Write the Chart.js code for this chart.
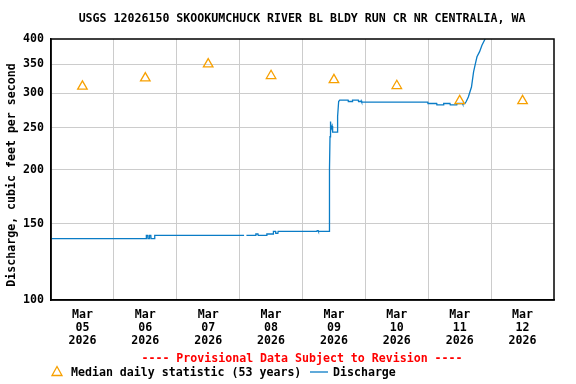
<!DOCTYPE html>
<html>
<head>
<meta charset="utf-8">
<script src="https://cdn.jsdelivr.net/npm/chart.js@4/dist/chart.umd.min.js"></script>
<style>
  html, body { margin: 0; padding: 0; background: #fff; }
  #wrap { width: 576px; height: 384px; }
</style>
</head>
<body>
<div id="wrap"><canvas id="chart" width="576" height="384"></canvas></div>
<script>
// --- datos del grafico ---
const monthLabel = 'Mar';
const yearLabel = '2026';
const dayLabels = ['05', '06', '07', '08', '09', '10', '11', '12'];
const yTicks = [100, 150, 200, 250, 300, 350, 400];

// mediana diaria (53 anos), una por dia, al mediodia
const medianCfs = [311, 325, 350, 329, 322, 312, 288, 288];

// caudal: horas desde Mar 05 00:00 y valores en cfs (null = hueco)
const dischargeHours = [
  0, 36.3, 36.4, 36.9, 37.0, 37.5, 37.6, 38.1, 38.2, 39.5, 39.6, 73.7, 73.8, 74.6,
  78.1, 78.2, 79.0, 79.1, 82.3, 82.4, 84.8, 84.9, 85.7, 85.8, 86.6, 86.7,
  101.5, 101.6, 102.0, 102.1, 106.2, 106.3, 106.5, 106.7, 106.9, 107.3, 107.5,
  109.2, 109.4, 109.8, 110.2, 113.4, 113.5, 115.0, 115.1, 117.3, 117.4, 118.3,
  118.4, 118.6, 143.8, 143.9, 147.2, 147.3, 149.8, 149.9, 152.3, 152.4, 154.9,
  155.0, 157.1, 157.2, 158.0, 158.5, 159.3, 160.5, 161.3, 162.0, 162.6, 163.6,
  164.5, 165.7, 166.6
];
const dischargeCfs = [
  138.5, 138.5, 141, 141, 138.5, 138.5, 141, 141, 138.5, 138.5, 141, 141, null, 141,
  141, 142, 142, 141, 141, 142, 142, 144, 144, 142.5, 142.5, 144,
  144, 144.5, 144.5, 144, 144, 200, 238, 258, 248, 252, 244,
  244, 265, 287, 289, 289, 287, 287, 289, 289, 287, 287,
  288, 286, 286, 284, 284, 282, 282, 284, 284, 282, 282,
  284, 284, 283, 284, 287, 294, 310, 336, 351, 364, 374,
  387, 400, 412
];

const FONT = '"DejaVu Sans Mono", "Liberation Mono", monospace';
const BLUE = '#0a7cc6';
const ORANGE = '#f7a000';
const GRID = '#cccccc';

const dischargePts = dischargeHours.map((h, i) => ({ x: h / 24, y: dischargeCfs[i] }));
const medianPts = medianCfs.map((v, i) => ({ x: i + 0.5, y: v }));

// textos y marco que Chart.js no dibuja solo
const extras = {
  id: 'extras',
  afterDraw(chart) {
    const { ctx, chartArea: a } = chart;
    ctx.save();
    // marco completo
    ctx.strokeStyle = '#000';
    ctx.lineWidth = 1.5;
    ctx.strokeRect(a.left, a.top, a.right - a.left, a.bottom - a.top);

    ctx.fillStyle = '#000';
    ctx.textBaseline = 'middle';
    ctx.textAlign = 'center';
    ctx.font = 'bold 11.6px ' + FONT;
    ctx.fillText('USGS 12026150 SKOOKUMCHUCK RIVER BL BLDY RUN CR NR CENTRALIA, WA', 302, 19);

    // titulo eje y
    ctx.save();
    ctx.translate(12, 175);
    ctx.rotate(-Math.PI / 2);
    ctx.font = 'bold 11.6px ' + FONT;
    ctx.fillText('Discharge, cubic feet per second', 0, 0);
    ctx.restore();

    ctx.font = 'bold 11.6px ' + FONT;
    ctx.fillStyle = '#ff0000';
    ctx.fillText('---- Provisional Data Subject to Revision ----', 302, 359);

    // leyenda
    ctx.fillStyle = '#000';
    ctx.textAlign = 'left';
    ctx.fillText('Median daily statistic (53 years)', 71, 373);
    ctx.fillText('Discharge', 333, 373);
    ctx.strokeStyle = BLUE;
    ctx.lineWidth = 1.3;
    ctx.beginPath();
    ctx.moveTo(310, 372);
    ctx.lineTo(328, 372);
    ctx.stroke();
    ctx.strokeStyle = ORANGE;
    ctx.lineWidth = 1.3;
    ctx.beginPath();
    ctx.moveTo(57, 366.5);
    ctx.lineTo(62, 375.5);
    ctx.lineTo(52, 375.5);
    ctx.closePath();
    ctx.stroke();
    ctx.restore();
  }
};

new Chart(document.getElementById('chart'), {
  type: 'line',
  data: {
    datasets: [
      {
        label: 'Discharge',
        data: dischargePts,
        borderColor: BLUE,
        borderWidth: 1.3,
        pointRadius: 0,
        tension: 0,
        spanGaps: false,
        order: 2
      },
      {
        label: 'Median daily statistic (53 years)',
        data: medianPts,
        showLine: false,
        pointStyle: 'triangle',
        pointRadius: 5.5,
        pointBorderWidth: 1.3,
        pointBorderColor: ORANGE,
        pointBackgroundColor: 'rgba(0,0,0,0)',
        order: 1
      }
    ]
  },
  options: {
    responsive: false,
    animation: false,
    layout: { padding: { left: 0, right: 22, top: 39, bottom: 0 } },
    plugins: {
      legend: { display: false },
      title: { display: false },
      tooltip: { enabled: false }
    },
    scales: {
      x: {
        type: 'linear',
        min: 0,
        max: 8,
        afterBuildTicks(scale) {
          const t = [];
          for (let i = 0; i <= 16; i++) t.push({ value: i / 2 });
          scale.ticks = t;
        },
        afterFit(scale) { scale.height = 84; },
        grid: {
          drawTicks: false,
          color: (c) => {
            const v = c.tick ? c.tick.value : 0;
            return (Number.isInteger(v) && v > 0 && v < 8) ? GRID : 'rgba(0,0,0,0)';
          }
        },
        border: { display: true, color: '#000', width: 1.5 },
        ticks: {
          autoSkip: false,
          maxRotation: 0,
          padding: 8,
          color: '#000',
          font: { family: FONT, size: 11.6, weight: 'bold', lineHeight: 1.13 },
          callback: (v) => {
            if (Number.isInteger(v)) return '';
            const d = dayLabels[Math.floor(v)];
            return [monthLabel, d, yearLabel];
          }
        }
      },
      y: {
        type: 'logarithmic',
        min: 100,
        max: 400,
        afterBuildTicks(scale) {
          scale.ticks = yTicks.map(v => ({ value: v, major: false }));
        },
        afterFit(scale) { scale.width = 51; },
        grid: {
          drawTicks: false,
          color: (c) => {
            const v = c.tick ? c.tick.value : 0;
            return (v > 100 && v < 400) ? GRID : 'rgba(0,0,0,0)';
          }
        },
        border: { display: true, color: '#000', width: 1.5 },
        ticks: {
          padding: 7,
          color: '#000',
          font: { family: FONT, size: 11.6, weight: 'bold' },
          callback: (v) => String(v)
        }
      }
    }
  },
  plugins: [extras]
});
</script>
</body>
</html>
